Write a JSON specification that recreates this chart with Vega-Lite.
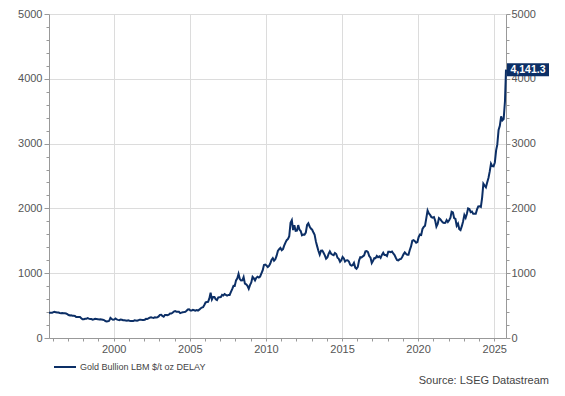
{
  "$schema": "https://vega.github.io/schema/vega-lite/v6.json",
  "autosize": {"type": "none"},
  "width": 457,
  "height": 324,
  "padding": {"left": 49, "top": 14, "right": 59, "bottom": 58},
  "background": "white",
  "config": {"view": {"stroke": null}, "font": "Liberation Sans"},
  "title": {"text": "Source: LSEG Datastream", "orient": "bottom", "anchor": "end", "fontSize": 11, "fontWeight": "normal", "color": "#444", "font": "Liberation Sans", "offset": 3},
  "datasets": {
    "gold": [
      {"date":"1995-10-02","price":390},{"date":"1995-11-15","price":388},{"date":"1995-12-15","price":388},
      {"date":"1996-01-15","price":400},{"date":"1996-02-15","price":405},{"date":"1996-03-15","price":396},{"date":"1996-04-15","price":393},{"date":"1996-05-15","price":392},{"date":"1996-06-15","price":385},{"date":"1996-07-15","price":383},{"date":"1996-08-15","price":387},{"date":"1996-09-15","price":383},{"date":"1996-10-15","price":381},{"date":"1996-11-15","price":378},{"date":"1996-12-15","price":369},
      {"date":"1997-01-15","price":355},{"date":"1997-02-15","price":347},{"date":"1997-03-15","price":352},{"date":"1997-04-15","price":344},{"date":"1997-05-15","price":344},{"date":"1997-06-15","price":341},{"date":"1997-07-15","price":324},{"date":"1997-08-15","price":324},{"date":"1997-09-15","price":323},{"date":"1997-10-15","price":325},{"date":"1997-11-15","price":306},{"date":"1997-12-15","price":289},
      {"date":"1998-01-15","price":289},{"date":"1998-02-15","price":297},{"date":"1998-03-15","price":296},{"date":"1998-04-15","price":308},{"date":"1998-05-15","price":299},{"date":"1998-06-15","price":292},{"date":"1998-07-15","price":293},{"date":"1998-08-15","price":284},{"date":"1998-09-15","price":289},{"date":"1998-10-15","price":296},{"date":"1998-11-15","price":294},{"date":"1998-12-15","price":291},
      {"date":"1999-01-15","price":287},{"date":"1999-02-15","price":288},{"date":"1999-03-15","price":286},{"date":"1999-04-15","price":282},{"date":"1999-05-15","price":277},{"date":"1999-06-15","price":262},{"date":"1999-07-15","price":256},{"date":"1999-08-15","price":257},{"date":"1999-09-15","price":265},{"date":"1999-10-15","price":311},{"date":"1999-11-15","price":293},{"date":"1999-12-15","price":283},
      {"date":"2000-01-15","price":284},{"date":"2000-02-15","price":300},{"date":"2000-03-15","price":286},{"date":"2000-04-15","price":280},{"date":"2000-05-15","price":275},{"date":"2000-06-15","price":286},{"date":"2000-07-15","price":282},{"date":"2000-08-15","price":275},{"date":"2000-09-15","price":274},{"date":"2000-10-15","price":270},{"date":"2000-11-15","price":266},{"date":"2000-12-15","price":272},
      {"date":"2001-01-15","price":266},{"date":"2001-02-15","price":262},{"date":"2001-03-15","price":263},{"date":"2001-04-15","price":261},{"date":"2001-05-15","price":272},{"date":"2001-06-15","price":270},{"date":"2001-07-15","price":268},{"date":"2001-08-15","price":273},{"date":"2001-09-15","price":283},{"date":"2001-10-15","price":283},{"date":"2001-11-15","price":276},{"date":"2001-12-15","price":276},
      {"date":"2002-01-15","price":282},{"date":"2002-02-15","price":296},{"date":"2002-03-15","price":294},{"date":"2002-04-15","price":302},{"date":"2002-05-15","price":314},{"date":"2002-06-15","price":321},{"date":"2002-07-15","price":314},{"date":"2002-08-15","price":310},{"date":"2002-09-15","price":319},{"date":"2002-10-15","price":317},{"date":"2002-11-15","price":319},{"date":"2002-12-15","price":333},
      {"date":"2003-01-15","price":357},{"date":"2003-02-15","price":359},{"date":"2003-03-15","price":340},{"date":"2003-04-15","price":328},{"date":"2003-05-15","price":355},{"date":"2003-06-15","price":356},{"date":"2003-07-15","price":351},{"date":"2003-08-15","price":360},{"date":"2003-09-15","price":379},{"date":"2003-10-15","price":379},{"date":"2003-11-15","price":389},{"date":"2003-12-15","price":407},
      {"date":"2004-01-15","price":414},{"date":"2004-02-15","price":405},{"date":"2004-03-15","price":406},{"date":"2004-04-15","price":404},{"date":"2004-05-15","price":384},{"date":"2004-06-15","price":392},{"date":"2004-07-15","price":398},{"date":"2004-08-15","price":400},{"date":"2004-09-15","price":405},{"date":"2004-10-15","price":420},{"date":"2004-11-15","price":439},{"date":"2004-12-15","price":442},
      {"date":"2005-01-15","price":424},{"date":"2005-02-15","price":423},{"date":"2005-03-15","price":434},{"date":"2005-04-15","price":429},{"date":"2005-05-15","price":422},{"date":"2005-06-15","price":430},{"date":"2005-07-15","price":424},{"date":"2005-08-15","price":438},{"date":"2005-09-15","price":456},{"date":"2005-10-15","price":470},{"date":"2005-11-15","price":476},{"date":"2005-12-15","price":510},
      {"date":"2006-01-15","price":549},{"date":"2006-02-15","price":555},{"date":"2006-03-15","price":557},{"date":"2006-04-15","price":610},{"date":"2006-05-15","price":700},{"date":"2006-06-15","price":596},{"date":"2006-07-15","price":633},{"date":"2006-08-15","price":632},{"date":"2006-09-15","price":598},{"date":"2006-10-15","price":585},{"date":"2006-11-15","price":627},{"date":"2006-12-15","price":629},
      {"date":"2007-01-15","price":631},{"date":"2007-02-15","price":665},{"date":"2007-03-15","price":655},{"date":"2007-04-15","price":679},{"date":"2007-05-15","price":667},{"date":"2007-06-15","price":655},{"date":"2007-07-15","price":665},{"date":"2007-08-15","price":665},{"date":"2007-09-15","price":712},{"date":"2007-10-15","price":754},{"date":"2007-11-15","price":806},{"date":"2007-12-15","price":803},
      {"date":"2008-01-15","price":889},{"date":"2008-02-15","price":922},{"date":"2008-03-15","price":990},{"date":"2008-04-15","price":909},{"date":"2008-05-15","price":888},{"date":"2008-06-15","price":889},{"date":"2008-07-15","price":940},{"date":"2008-08-15","price":839},{"date":"2008-09-15","price":829},{"date":"2008-10-15","price":806},{"date":"2008-11-15","price":760},{"date":"2008-12-15","price":816},
      {"date":"2009-01-15","price":858},{"date":"2009-02-15","price":943},{"date":"2009-03-15","price":924},{"date":"2009-04-15","price":890},{"date":"2009-05-15","price":928},{"date":"2009-06-15","price":946},{"date":"2009-07-15","price":934},{"date":"2009-08-15","price":949},{"date":"2009-09-15","price":996},{"date":"2009-10-15","price":1043},{"date":"2009-11-15","price":1127},{"date":"2009-12-15","price":1134},
      {"date":"2010-01-15","price":1118},{"date":"2010-02-15","price":1095},{"date":"2010-03-15","price":1113},{"date":"2010-04-15","price":1148},{"date":"2010-05-15","price":1205},{"date":"2010-06-15","price":1233},{"date":"2010-07-15","price":1193},{"date":"2010-08-15","price":1215},{"date":"2010-09-15","price":1271},{"date":"2010-10-15","price":1342},{"date":"2010-11-15","price":1370},{"date":"2010-12-15","price":1391},
      {"date":"2011-01-15","price":1356},{"date":"2011-02-15","price":1372},{"date":"2011-03-15","price":1424},{"date":"2011-04-15","price":1473},{"date":"2011-05-15","price":1510},{"date":"2011-06-15","price":1529},{"date":"2011-07-15","price":1572},{"date":"2011-08-15","price":1780},{"date":"2011-09-15","price":1820},{"date":"2011-10-15","price":1665},{"date":"2011-11-15","price":1739},{"date":"2011-12-15","price":1652},
      {"date":"2012-01-15","price":1656},{"date":"2012-02-15","price":1742},{"date":"2012-03-15","price":1673},{"date":"2012-04-15","price":1650},{"date":"2012-05-15","price":1585},{"date":"2012-06-15","price":1596},{"date":"2012-07-15","price":1594},{"date":"2012-08-15","price":1626},{"date":"2012-09-15","price":1744},{"date":"2012-10-15","price":1770},{"date":"2012-11-15","price":1721},{"date":"2012-12-15","price":1688},
      {"date":"2013-01-15","price":1671},{"date":"2013-02-15","price":1627},{"date":"2013-03-15","price":1593},{"date":"2013-04-15","price":1487},{"date":"2013-05-15","price":1414},{"date":"2013-06-15","price":1343},{"date":"2013-07-15","price":1286},{"date":"2013-08-15","price":1347},{"date":"2013-09-15","price":1349},{"date":"2013-10-15","price":1316},{"date":"2013-11-15","price":1275},{"date":"2013-12-15","price":1225},
      {"date":"2014-01-15","price":1244},{"date":"2014-02-15","price":1300},{"date":"2014-03-15","price":1336},{"date":"2014-04-15","price":1299},{"date":"2014-05-15","price":1288},{"date":"2014-06-15","price":1279},{"date":"2014-07-15","price":1311},{"date":"2014-08-15","price":1296},{"date":"2014-09-15","price":1238},{"date":"2014-10-15","price":1222},{"date":"2014-11-15","price":1176},{"date":"2014-12-15","price":1200},
      {"date":"2015-01-15","price":1251},{"date":"2015-02-15","price":1227},{"date":"2015-03-15","price":1179},{"date":"2015-04-15","price":1198},{"date":"2015-05-15","price":1199},{"date":"2015-06-15","price":1181},{"date":"2015-07-15","price":1131},{"date":"2015-08-15","price":1117},{"date":"2015-09-15","price":1125},{"date":"2015-10-15","price":1159},{"date":"2015-11-15","price":1086},{"date":"2015-12-15","price":1068},
      {"date":"2016-01-15","price":1097},{"date":"2016-02-15","price":1199},{"date":"2016-03-15","price":1246},{"date":"2016-04-15","price":1242},{"date":"2016-05-15","price":1260},{"date":"2016-06-15","price":1276},{"date":"2016-07-15","price":1337},{"date":"2016-08-15","price":1340},{"date":"2016-09-15","price":1326},{"date":"2016-10-15","price":1266},{"date":"2016-11-15","price":1238},{"date":"2016-12-15","price":1157},
      {"date":"2017-01-15","price":1192},{"date":"2017-02-15","price":1234},{"date":"2017-03-15","price":1231},{"date":"2017-04-15","price":1266},{"date":"2017-05-15","price":1246},{"date":"2017-06-15","price":1260},{"date":"2017-07-15","price":1237},{"date":"2017-08-15","price":1283},{"date":"2017-09-15","price":1315},{"date":"2017-10-15","price":1280},{"date":"2017-11-15","price":1282},{"date":"2017-12-15","price":1265},
      {"date":"2018-01-15","price":1331},{"date":"2018-02-15","price":1331},{"date":"2018-03-15","price":1325},{"date":"2018-04-15","price":1335},{"date":"2018-05-15","price":1304},{"date":"2018-06-15","price":1281},{"date":"2018-07-15","price":1238},{"date":"2018-08-15","price":1202},{"date":"2018-09-15","price":1198},{"date":"2018-10-15","price":1215},{"date":"2018-11-15","price":1220},{"date":"2018-12-15","price":1250},
      {"date":"2019-01-15","price":1291},{"date":"2019-02-15","price":1320},{"date":"2019-03-15","price":1300},{"date":"2019-04-15","price":1285},{"date":"2019-05-15","price":1284},{"date":"2019-06-15","price":1359},{"date":"2019-07-15","price":1413},{"date":"2019-08-15","price":1500},{"date":"2019-09-15","price":1510},{"date":"2019-10-15","price":1495},{"date":"2019-11-15","price":1471},{"date":"2019-12-15","price":1480},
      {"date":"2020-01-15","price":1560},{"date":"2020-02-15","price":1597},{"date":"2020-03-15","price":1591},{"date":"2020-04-15","price":1683},{"date":"2020-05-15","price":1715},{"date":"2020-06-15","price":1732},{"date":"2020-07-15","price":1846},{"date":"2020-08-15","price":1968},{"date":"2020-09-15","price":1922},{"date":"2020-10-15","price":1900},{"date":"2020-11-15","price":1866},{"date":"2020-12-15","price":1858},
      {"date":"2021-01-15","price":1867},{"date":"2021-02-15","price":1808},{"date":"2021-03-15","price":1718},{"date":"2021-04-15","price":1760},{"date":"2021-05-15","price":1850},{"date":"2021-06-15","price":1834},{"date":"2021-07-15","price":1807},{"date":"2021-08-15","price":1785},{"date":"2021-09-15","price":1775},{"date":"2021-10-15","price":1777},{"date":"2021-11-15","price":1821},{"date":"2021-12-15","price":1790},
      {"date":"2022-01-15","price":1817},{"date":"2022-02-15","price":1856},{"date":"2022-03-15","price":1948},{"date":"2022-04-15","price":1937},{"date":"2022-05-15","price":1849},{"date":"2022-06-15","price":1837},{"date":"2022-07-15","price":1733},{"date":"2022-08-15","price":1765},{"date":"2022-09-15","price":1681},{"date":"2022-10-15","price":1665},{"date":"2022-11-15","price":1726},{"date":"2022-12-15","price":1798},
      {"date":"2023-01-15","price":1898},{"date":"2023-02-15","price":1855},{"date":"2023-03-15","price":1913},{"date":"2023-04-15","price":2000},{"date":"2023-05-15","price":1992},{"date":"2023-06-15","price":1942},{"date":"2023-07-15","price":1951},{"date":"2023-08-15","price":1918},{"date":"2023-09-15","price":1916},{"date":"2023-10-15","price":1916},{"date":"2023-11-15","price":1985},{"date":"2023-12-15","price":2030},
      {"date":"2024-01-15","price":2034},{"date":"2024-02-15","price":2023},{"date":"2024-03-15","price":2160},{"date":"2024-04-15","price":2380},{"date":"2024-05-15","price":2351},{"date":"2024-06-15","price":2326},{"date":"2024-07-15","price":2398},{"date":"2024-08-15","price":2470},{"date":"2024-09-15","price":2571},{"date":"2024-10-15","price":2690},{"date":"2024-11-15","price":2651},{"date":"2024-12-15","price":2648},
      {"date":"2025-01-15","price":2709},{"date":"2025-02-15","price":2895},{"date":"2025-03-15","price":2983},{"date":"2025-04-15","price":3210},{"date":"2025-05-15","price":3275},{"date":"2025-06-15","price":3420},{"date":"2025-07-15","price":3360},{"date":"2025-08-15","price":3380},{"date":"2025-09-15","price":3650},{"date":"2025-10-10","price":4141.3}
    ],
    "last": [{"date":"2025-10-10","price":4141.3}]
  },
  "resolve": {"axis": {"y": "independent", "x": "independent"}},
  "layer": [
    {
      "data": {"name": "gold"},
      "mark": {"type": "line", "strokeWidth": 2, "interpolate": "linear"},
      "encoding": {
        "x": {
          "field": "date", "type": "temporal",
          "scale": {"nice": false},
          "axis": {
            "orient": "bottom", "title": null,
            "tickCount": {"interval": "year", "step": 1},
            "labelExpr": "year(datum.value) % 5 === 0 ? timeFormat(datum.value, '%Y') : ''",
            "labelOverlap": false, "labelFlush": false,
            "gridOpacity": {"condition": {"test": "year(datum.value) % 5 === 0", "value": 1}, "value": 0},
            "grid": true, "gridColor": "#dcdcdc", "gridWidth": 1,
            "domainColor": "#999", "tickColor": "#999", "tickSize": 3,
            "labelColor": "#555", "labelFontSize": 11, "labelFont": "Liberation Sans", "labelPadding": 2
          }
        },
        "y": {
          "field": "price", "type": "quantitative",
          "scale": {"domain": [0, 5000], "nice": false},
          "axis": {
            "orient": "left", "title": null,
            "values": [0,200,400,600,800,1000,1200,1400,1600,1800,2000,2200,2400,2600,2800,3000,3200,3400,3600,3800,4000,4200,4400,4600,4800,5000],
            "labelExpr": "datum.value % 1000 === 0 ? '' + datum.value : ''",
            "labelOverlap": false,
            "grid": true, "gridColor": "#dcdcdc", "gridWidth": 1,
            "gridOpacity": {"condition": {"test": "datum.value % 1000 === 0", "value": 1}, "value": 0},
            "tickSize": {"condition": {"test": "datum.value % 1000 === 0", "value": 5}, "value": 3},
            "domainColor": "#999", "tickColor": "#999",
            "labelColor": "#555", "labelFontSize": 11, "labelFont": "Liberation Sans", "labelPadding": 2
          }
        },
        "color": {
          "datum": "Gold Bullion LBM $/t oz DELAY",
          "type": "nominal",
          "scale": {"range": ["#0c2f66"]},
          "legend": {
            "orient": "none", "legendX": 4, "legendY": 341, "title": null,
            "symbolType": "stroke", "symbolStrokeWidth": 2, "symbolSize": 484,
            "labelFontSize": 9, "labelColor": "#444", "labelFont": "Liberation Sans", "labelOffset": 3, "padding": 0
          }
        }
      }
    },
    {
      "data": {"name": "last"},
      "mark": {"type": "rect", "color": "#0c2f66", "width": 42, "height": 13, "xOffset": 22},
      "encoding": {
        "x": {"field": "date", "type": "temporal", "axis": null},
        "y": {
          "field": "price", "type": "quantitative",
          "axis": {
            "orient": "right", "title": null,
            "values": [0,200,400,600,800,1000,1200,1400,1600,1800,2000,2200,2400,2600,2800,3000,3200,3400,3600,3800,4000,4200,4400,4600,4800,5000],
            "labelExpr": "datum.value % 1000 === 0 ? '' + datum.value : ''",
            "labelOverlap": false, "grid": false,
            "tickSize": {"condition": {"test": "datum.value % 1000 === 0", "value": 4}, "value": 3},
            "domainColor": "#999", "tickColor": "#999",
            "labelColor": "#555", "labelFontSize": 11, "labelFont": "Liberation Sans", "labelPadding": 1
          }
        }
      }
    },
    {
      "data": {"name": "last"},
      "mark": {"type": "text", "color": "white", "fontWeight": "bold", "fontSize": 10.5, "font": "Liberation Sans", "xOffset": 22, "align": "center", "baseline": "middle"},
      "encoding": {
        "x": {"field": "date", "type": "temporal", "axis": null},
        "y": {"field": "price", "type": "quantitative", "axis": null},
        "text": {"field": "price", "type": "quantitative", "format": ",.1f"}
      }
    }
  ]
}
